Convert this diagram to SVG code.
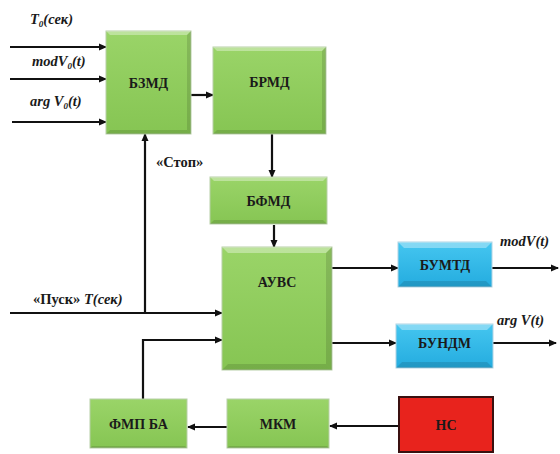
<svg xmlns="http://www.w3.org/2000/svg" width="560" height="454" viewBox="0 0 560 454">
<defs>
<marker id="ah" markerWidth="8" markerHeight="8" refX="7" refY="4" orient="auto" markerUnits="userSpaceOnUse">
<path d="M0,0.5 L8,4 L0,7.5 Z" fill="#111"/>
</marker>
<linearGradient id="gg" x1="0" y1="0" x2="0" y2="1">
<stop offset="0" stop-color="#9ad468"/><stop offset="1" stop-color="#86c553"/>
</linearGradient>
<linearGradient id="bg" x1="0" y1="0" x2="0" y2="1">
<stop offset="0" stop-color="#45c6f0"/><stop offset="1" stop-color="#24acdf"/>
</linearGradient>
</defs>
<style>
.lbl{font-family:"Liberation Serif","DejaVu Serif",serif;font-weight:bold;font-size:14px;fill:#1a1a1a;text-anchor:middle}
.sig{font-family:"Liberation Serif","DejaVu Serif",serif;font-weight:bold;font-style:italic;font-size:14.5px;fill:#1a1a1a}
.up{font-style:normal}
.g{fill:url(#gg);stroke:#b8cfa8;stroke-width:1}
.b{fill:url(#bg);stroke:#b0d4e4;stroke-width:1}
.ln{stroke:#111;stroke-width:2.2;fill:none}
.hl{fill:#ffffff;opacity:0.35}
.sh{fill:#000;opacity:0.12}
</style>
<rect width="560" height="454" fill="#fff"/>
<g id="connectors">
<line class="ln" x1="10" y1="47" x2="106" y2="47" marker-end="url(#ah)"/>
<line class="ln" x1="10" y1="79" x2="106" y2="79" marker-end="url(#ah)"/>
<line class="ln" x1="12" y1="122" x2="106" y2="122" marker-end="url(#ah)"/>
<line class="ln" x1="191" y1="95" x2="213" y2="95" marker-end="url(#ah)"/>
<line class="ln" x1="145" y1="313" x2="145" y2="134" marker-end="url(#ah)"/>
<line class="ln" x1="272" y1="134" x2="272" y2="177" marker-end="url(#ah)"/>
<line class="ln" x1="274" y1="225" x2="274" y2="247" marker-end="url(#ah)"/>
<line class="ln" x1="10" y1="313" x2="222" y2="313" marker-end="url(#ah)"/>
<polyline class="ln" points="143,400 143,340 222,340" marker-end="url(#ah)"/>
<line class="ln" x1="332" y1="268" x2="398" y2="268" marker-end="url(#ah)"/>
<line class="ln" x1="492" y1="268" x2="558" y2="268" marker-end="url(#ah)"/>
<line class="ln" x1="332" y1="343" x2="396" y2="343" marker-end="url(#ah)"/>
<line class="ln" x1="493" y1="343" x2="556" y2="343" marker-end="url(#ah)"/>
<line class="ln" x1="227" y1="427" x2="188" y2="427" marker-end="url(#ah)"/>
<line class="ln" x1="399" y1="426" x2="330" y2="426" marker-end="url(#ah)"/>
</g>
<g id="labels">
<text class="sig" x="30" y="24">T<tspan font-size="9" dy="3">0</tspan><tspan dy="-3">(сек)</tspan></text>
<text class="sig" x="32" y="66">modV<tspan font-size="9" dy="3">0</tspan><tspan dy="-3">(t)</tspan></text>
<text class="sig" x="30" y="106">arg V<tspan font-size="9" dy="3">0</tspan><tspan dy="-3">(t)</tspan></text>
<text class="sig up" x="156" y="167">«Стоп»</text>
<text class="sig" x="33" y="304"><tspan class="up">«Пуск»</tspan> T(сек)</text>
<text class="sig" x="500" y="246">modV(t)</text>
<text class="sig" x="497" y="325">arg V(t)</text>
</g>
<g id="n-bzmd">
<rect class="g" x="106" y="31" width="85" height="103"/>
<polygon class="hl" points="106,31 191,31 187,35 110,35"/>
<polygon class="sh" points="191,31 191,134 187,130 187,35"/>
<polygon class="sh" points="106,134 191,134 187,130 110,130"/>
<text class="lbl" x="148.5" y="88">БЗМД</text>
</g>
<g id="n-brmd">
<rect class="g" x="213" y="47" width="113" height="87"/>
<polygon class="hl" points="213,47 326,47 322,51 217,51"/>
<polygon class="sh" points="326,47 326,134 322,130 322,51"/>
<polygon class="sh" points="213,134 326,134 322,130 217,130"/>
<text class="lbl" x="269.5" y="87">БРМД</text>
</g>
<g id="n-bfmd">
<rect class="g" x="210" y="177" width="117" height="47"/>
<polygon class="hl" points="210,177 327,177 323,181 214,181"/>
<polygon class="sh" points="210,224 327,224 323,220 214,220"/>
<text class="lbl" x="268.5" y="206">БФМД</text>
</g>
<g id="n-auvs">
<rect class="g" x="222" y="247" width="110" height="123"/>
<polygon class="hl" points="222,247 332,247 326,253 228,253"/>
<polygon class="sh" points="332,247 332,370 326,364 326,253"/>
<polygon class="sh" points="222,370 332,370 326,364 228,364"/>
<text class="lbl" x="277" y="287">АУВС</text>
</g>
<g id="n-bumtd">
<rect class="b" x="398" y="242" width="94" height="45"/>
<polygon class="hl" points="398,242 492,242 486,248 404,248"/>
<polygon class="sh" points="398,287 492,287 486,281 404,281"/>
<text class="lbl" x="445" y="270">БУМТД</text>
</g>
<g id="n-bundm">
<rect class="b" x="396" y="324" width="97" height="44"/>
<polygon class="hl" points="396,324 493,324 487,330 402,330"/>
<polygon class="sh" points="396,368 493,368 487,362 402,362"/>
<text class="lbl" x="444.5" y="348">БУНДМ</text>
</g>
<g id="n-fmpba">
<rect class="g" x="90" y="399" width="97" height="49"/>
<polygon class="sh" points="90,448 187,448 185,446 92,446"/>
<text class="lbl" x="138.5" y="429">ФМП БА</text>
</g>
<g id="n-mkm">
<rect class="g" x="227" y="399" width="102" height="49"/>
<polygon class="sh" points="227,448 329,448 327,446 229,446"/>
<text class="lbl" x="278" y="429">МКМ</text>
</g>
<g id="n-ns">
<rect x="399" y="397" width="94" height="55" fill="#e8231d" stroke="#3a1010" stroke-width="2"/>
<text class="lbl" x="446" y="430">НС</text>
</g>
</svg>
